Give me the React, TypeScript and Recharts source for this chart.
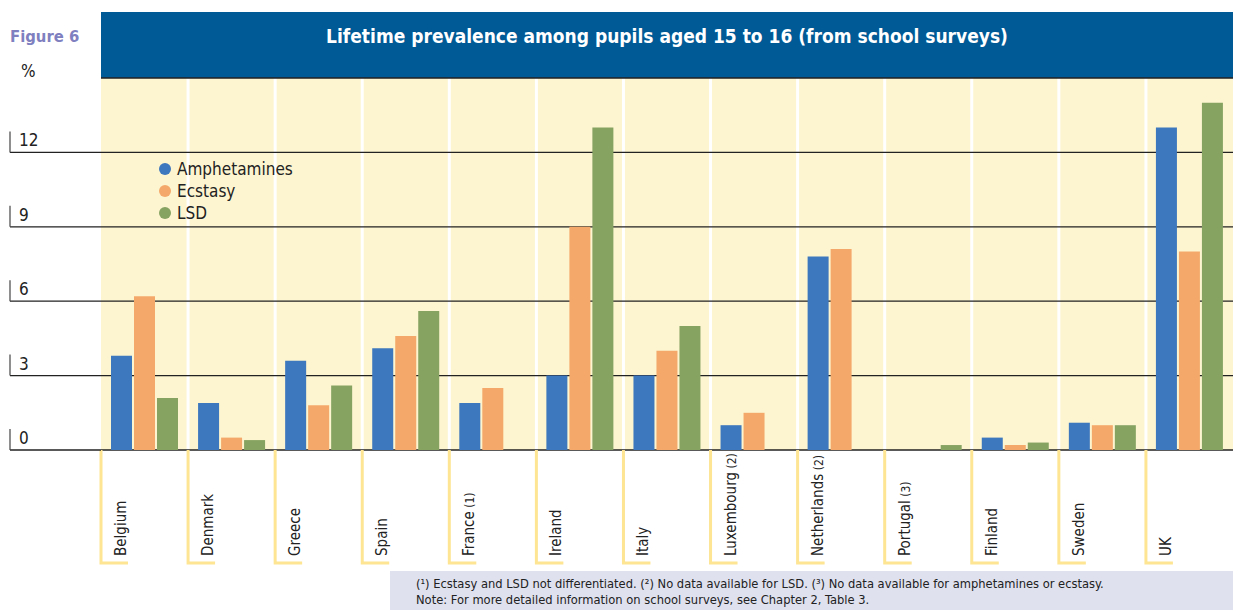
import React from "react"
import { BarChart, Bar, XAxis, YAxis, CartesianGrid } from "recharts"

const countries = [
  "Belgium", "Denmark", "Greece", "Spain", "France (1)", "Ireland", "Italy",
  "Luxembourg (2)", "Netherlands (2)", "Portugal (3)", "Finland", "Sweden", "UK"
]
const amphetamines = [3.8, 1.9, 3.6, 4.1, 1.9, 3.0, 3.0, 1.0, 7.8, null, 0.5, 1.1, 13.0]
const ecstasy = [6.2, 0.5, 1.8, 4.6, 2.5, 9.0, 4.0, 1.5, 8.1, null, 0.2, 1.0, 8.0]
const lsd = [2.1, 0.4, 2.6, 5.6, null, 13.0, 5.0, null, null, 0.2, 0.3, 1.0, 14.0]
const yTicks = [0, 3, 6, 9, 12]

const data = countries.map((c, i) => ({
  country: c,
  amphetamines: amphetamines[i],
  ecstasy: ecstasy[i],
  lsd: lsd[i]
}))

const FONT = "'Liberation Sans Narrow', 'DejaVu Sans Condensed', Roboto, sans-serif"
const series = [
  { key: "amphetamines", name: "Amphetamines", color: "#3d77bd" },
  { key: "ecstasy", name: "Ecstasy", color: "#f4a96a" },
  { key: "lsd", name: "LSD", color: "#86a362" }
]

const W = 1233
const H = 610
const X_H = 160
const M = { top: 78, right: 0, left: 10, bottom: 0 }
const Y_W = 91
const bandW = (W - M.left - Y_W - M.right) / countries.length
const plotBottom = H - X_H

function YTick(props: any) {
  const { y, payload } = props
  return (
    <g>
      <line x1={10} x2={10 + Y_W} y1={y} y2={y} stroke="#222" strokeWidth={1.3} />
      <line x1={10} x2={10} y1={y - 21} y2={y} stroke="#444" strokeWidth={1.2} />
      <text x={19} y={y - 6} fontSize={17} fill="#222" fontFamily={FONT} style={{ fontStretch: "condensed" }}>{payload.value}</text>
    </g>
  )
}

function XTick(props: any) {
  const { x, payload } = props
  const left = x - bandW / 2
  const top = plotBottom
  const m = String(payload.value).match(/^(.*?)( \(\d\))?$/)
  const name = m ? m[1] : payload.value
  const note = m && m[2] ? m[2] : ""
  return (
    <g>
      <polyline
        points={`${left},${top} ${left},${top + 113} ${left + 27},${top + 113}`}
        fill="none" stroke="#fde594" strokeWidth={3}
      />
      <text
        x={left + 25} y={top + 106} transform={`rotate(-90 ${left + 25} ${top + 106})`}
        fontSize={15} fill="#222" fontFamily={FONT} textAnchor="start" style={{ fontStretch: "condensed" }}
      >
        {name}
        {note && <tspan fontSize={12}>{note}</tspan>}
      </text>
    </g>
  )
}

export default function App() {
  return (
    <div style={{ position: "absolute", left: 0, top: 0, width: W, height: H, background: "#fff", fontFamily: FONT, fontStretch: "condensed" }}>
      <div style={{ position: "absolute", left: 101, top: 12, width: W - 101, height: 66, background: "#005a96" }} />
      <div style={{ position: "absolute", left: 101, top: 25, width: W - 101, textAlign: "center", color: "#fff", fontWeight: "bold", fontSize: 19 }}>
        Lifetime prevalence among pupils aged 15 to 16 (from school surveys)
      </div>
      <div style={{ position: "absolute", left: 10, top: 27, color: "#7f80c0", fontWeight: "bold", fontSize: 16.5 }}>Figure 6</div>
      <div style={{ position: "absolute", left: 21, top: 61, color: "#222", fontSize: 17 }}>%</div>
      <div style={{ position: "absolute", left: 0, top: 0 }}>
        <BarChart width={W} height={H} data={data} margin={M} barCategoryGap={10} barGap={2}>
          <CartesianGrid
            fill="#fdf5d0" horizontal={false} stroke="#fff" strokeWidth={3}
            verticalCoordinatesGenerator={({ offset }: any) =>
              countries.slice(1).map((_, i) => offset.left + ((i + 1) * offset.width) / countries.length)}
          />
          <CartesianGrid vertical={false} stroke="#222" strokeWidth={1.3} />
          <XAxis dataKey="country" axisLine={false} tickLine={false} tick={<XTick />} interval={0} height={X_H} />
          <YAxis domain={[0, 15]} ticks={yTicks} width={Y_W} axisLine={false} tickLine={false} tick={<YTick />} />
          {series.map(s => (
            <Bar key={s.key} dataKey={s.key} name={s.name} fill={s.color} isAnimationActive={false} />
          ))}
        </BarChart>
      </div>
      <div style={{ position: "absolute", left: 159, top: 158, fontSize: 17, color: "#222", lineHeight: "22px" }}>
        {series.map(s => (
          <div key={s.key} style={{ display: "flex", alignItems: "center" }}>
            <span style={{ width: 12, height: 12, borderRadius: 6, background: s.color, marginRight: 6, display: "inline-block" }} />
            {s.name}
          </div>
        ))}
      </div>
      <div style={{ position: "absolute", left: 390, top: 571, width: W - 390, height: 39, background: "#dfe1ef" }} />
      <div style={{ position: "absolute", left: 416, top: 576, fontSize: 12.8, color: "#222", lineHeight: "16px" }}>
        <div>(¹) Ecstasy and LSD not differentiated. (²) No data available for LSD. (³) No data available for amphetamines or ecstasy.</div>
        <div>Note: For more detailed information on school surveys, see Chapter 2, Table 3.</div>
      </div>
    </div>
  )
}
